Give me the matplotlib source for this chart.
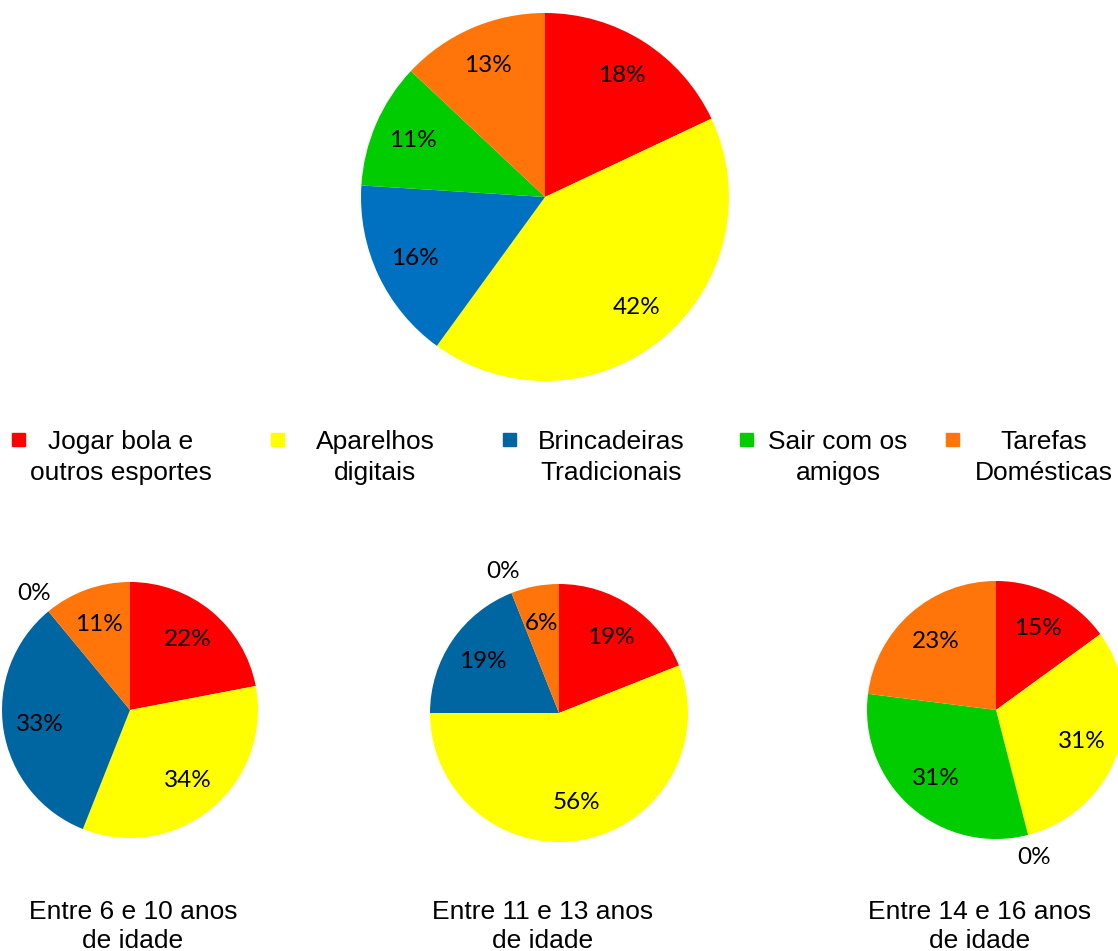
import matplotlib.pyplot as plt
from matplotlib.patches import Rectangle
import numpy as np

W, H = 1118, 951

# categorias e cores
categorias = ['Jogar bola e\noutros esportes', 'Aparelhos\ndigitais',
              'Brincadeiras\nTradicionais', 'Sair com os\namigos',
              'Tarefas\nDomésticas']
cores_geral = ['#FF0000', '#FFFF00', '#0070C0', '#00CC00', '#FF750A']
cores_idade = ['#FF0000', '#FFFF00', '#0066A1', '#00CC00', '#FF750A']

# percentuais
geral = [18, 42, 16, 11, 13]
idade_6_10 = [22, 34, 33, 0, 11]
idade_11_13 = [19, 56, 19, 0, 6]
idade_14_16 = [15, 31, 0, 31, 23]
titulos = ['Entre 6 e 10 anos\nde idade', 'Entre 11 e 13 anos\nde idade',
           'Entre 14 e 16 anos\nde idade']

pct_font = 'Lato'
txt_font = 'Liberation Sans'

fig = plt.figure(figsize=(W / 100, H / 100), dpi=100)


def pizza(cx, cy, r, valores, cores, dist, dist_zero=1.18):
    ax = fig.add_axes([(cx - r) / W, (H - cy - r) / H, 2 * r / W, 2 * r / H])
    wedges, _ = ax.pie(valores, colors=cores, startangle=90, counterclock=False,
                       wedgeprops=dict(linewidth=0))
    for w, v in zip(wedges, valores):
        ang = np.deg2rad((w.theta1 + w.theta2) / 2)
        d = dist if v > 0 else dist_zero
        ax.text(d * np.cos(ang), d * np.sin(ang), f'{v}%', ha='center', va='center',
                fontsize=17.5, family=pct_font, color='black')
    ax.set_xlim(-1, 1)
    ax.set_ylim(-1, 1)
    ax.set_aspect('equal')
    for p in ax.patches:
        p.set_clip_on(False)
    return ax


# pizza principal
pizza(545, 197, 184, geral, cores_geral, 0.78)

# legenda
quad_x = [12, 271, 503, 740, 946]
texto_x = [121, 375, 611, 838, 1044]
for qx, tx, cat, cor in zip(quad_x, texto_x, categorias, cores_idade):
    fig.patches.append(Rectangle((qx / W, (H - 446) / H), 13 / W, 13 / H,
                                 transform=fig.transFigure, color=cor))
    for k, linha in enumerate(cat.split('\n')):
        fig.text(tx / W, (H - 442 - 31 * k) / H, linha, ha='center', va='center',
                 fontsize=19, family=txt_font)

# pizzas por faixa etária
centros = [(130, 710, 128), (559, 713, 129), (996, 710, 129)]
tit_x = [133, 543, 980]
for (cx, cy, r), vals, tit, tx in zip(centros, [idade_6_10, idade_11_13, idade_14_16],
                                      titulos, tit_x):
    pizza(cx, cy, r, vals, cores_idade, 0.71)
    for k, linha in enumerate(tit.split('\n')):
        fig.text(tx / W, (H - 912 - 29 * k) / H, linha, ha='center', va='center',
                 fontsize=19, family=txt_font)

fig.savefig('out.png', dpi=100)
